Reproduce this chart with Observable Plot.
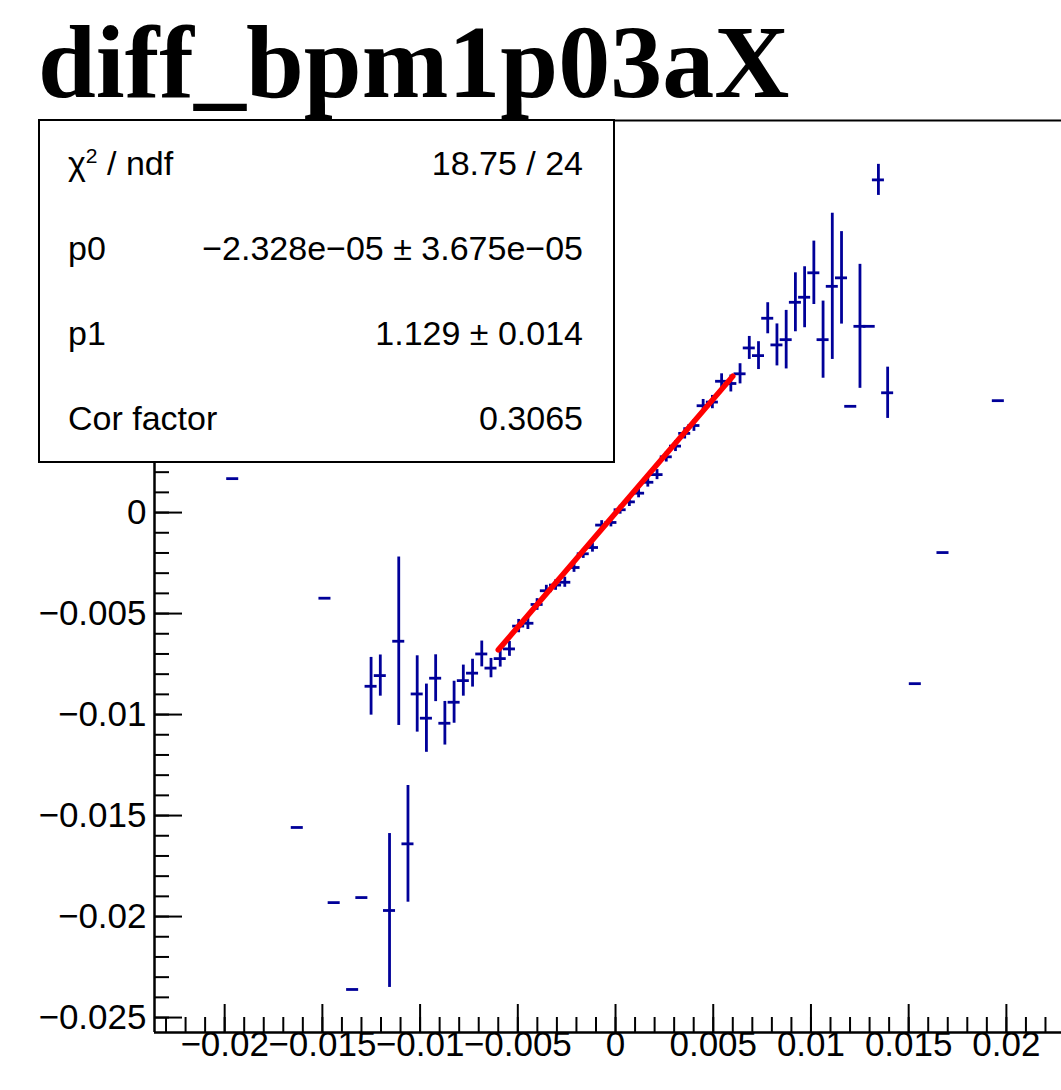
<!DOCTYPE html>
<html>
<head>
<meta charset="utf-8">
<script src="https://cdn.jsdelivr.net/npm/d3@7"></script>
<script src="https://cdn.jsdelivr.net/npm/@observablehq/plot@0.6"></script>
<style>
  html, body { margin: 0; padding: 0; background: #fff; overflow: hidden; }
  #wrap { position: relative; width: 1061px; height: 1090px; }
  #title { position: absolute; left: 38px; top: 10px; font: bold 104px "Liberation Serif", "Times New Roman", serif; color: #000; line-height: 1; white-space: nowrap; }
  #stats { position: absolute; left: 38px; top: 119px; width: 577px; height: 344px; box-sizing: border-box; border: 2px solid #000; background: #fff; font: 34px "Liberation Sans", Arial, sans-serif; color: #000; z-index: 2; }
  #stats .row { height: 85px; display: flex; justify-content: space-between; align-items: center; padding: 0 30px 0 28px; white-space: nowrap; }
  #stats sup { font-size: 0.62em; vertical-align: 0.55em; line-height: 0; }
  #chart { position: absolute; left: 0; top: 0; }
</style>
</head>
<body>
<div id="wrap">
  <div id="chart"></div>
  <div id="title">diff_bpm1p03aX</div>
  <div id="stats">
    <div class="row"><span>χ<sup>2</sup> / ndf</span><span>18.75 / 24</span></div>
    <div class="row"><span>p0</span><span>−2.328e−05 ± 3.675e−05</span></div>
    <div class="row"><span>p1</span><span>1.129 ± 0.014</span></div>
    <div class="row"><span>Cor factor</span><span>0.3065</span></div>
  </div>
</div>
<script>
// ---- data (profile bin centres, means, errors) ----
const xs = [-0.019588, -0.016284, -0.014868, -0.014396, -0.013452, -0.01298,
  -0.012508, -0.012036, -0.011564, -0.011092, -0.01062, -0.010148, -0.009676, -0.009204,
  -0.008732, -0.00826, -0.007788, -0.007316, -0.006844, -0.006372, -0.0059, -0.005428,
  -0.004956, -0.004484, -0.004012, -0.00354, -0.003068, -0.002596, -0.002124, -0.001652,
  -0.00118, -0.000708, -0.000236, 0.000236, 0.000708, 0.00118, 0.001652, 0.002124,
  0.002596, 0.003068, 0.00354, 0.004012, 0.004484, 0.004956, 0.005428, 0.0059, 0.006372,
  0.006844, 0.007316, 0.007788, 0.00826, 0.008732, 0.009204, 0.009676, 0.010148, 0.01062,
  0.011092, 0.011564, 0.012036, 0.012508, 0.01298, 0.013452, 0.013924,
  0.01534, 0.016756, 0.019588];
const ys = [0.00168, -0.01559, -0.00424, -0.01931, -0.02361, -0.01906,
  -0.0086, -0.00807, -0.0197, -0.00637, -0.0164, -0.00898, -0.01018, -0.0082,
  -0.01043, -0.00939, -0.00832, -0.00795, -0.007, -0.0077, -0.00723, -0.00675,
  -0.00562, -0.00548, -0.00455, -0.00387, -0.00359, -0.00345, -0.00272, -0.00204,
  -0.00173, -0.00062, -0.00049, 0.00014, 0.00053, 0.00096, 0.0015, 0.00188,
  0.00276, 0.00329, 0.00392, 0.00431, 0.00529, 0.00547, 0.0065, 0.00639, 0.00687,
  0.00815, 0.00777, 0.00962, 0.0083, 0.00856, 0.01041, 0.01066, 0.01187, 0.00856,
  0.0112, 0.01162, 0.00526, 0.00922, 0.00922, 0.01647, 0.00593,
  -0.00847, -0.00198, 0.00554];
const yErrs = [0, 0, 0, 0, 0, 0,
  0.00136, 0.00095, 0.00374, 0.0041, 0.00282, 0.00182, 0.00162, 0.00109,
  0.00101, 0.00097, 0.0007, 0.00062, 0.00057, 0.00041, 0.00035, 0.0003,
  0.00026, 0.00024, 0.00022, 0.0002, 0.00019, 0.00018, 0.00017, 0.00016,
  0.00016, 0.00015, 0.00015, 0.00015, 0.00016, 0.00016, 0.00017, 0.00018,
  0.00019, 0.0002, 0.00021, 0.00022, 0.00024, 0.00026, 0.0003, 0.00035, 0.00043,
  0.0005, 0.00062, 0.0007, 0.00097, 0.00138, 0.00139, 0.00144, 0.0015, 0.00184,
  0.00355, 0.00222, 0, 0.003, 0, 0.0007, 0.0012,
  0, 0, 0];
const binHalfWidth = 0.000236;

// fit: pol1, p0 + p1*x over the fit range
const fitP0 = -2.328e-05;
const fitP1 = 1.129;
const fitRange = [-0.006, 0.006];

// axis ticks (labels above 0 are hidden behind the stats box in the reference)
const xMajorTicks = [-0.02, -0.015, -0.01, -0.005, 0, 0.005, 0.01, 0.015, 0.02];
const yMajorTicks = [-0.025, -0.02, -0.015, -0.01, -0.005, 0, 0.005, 0.01, 0.015];
const yTickLabels = [-0.025, -0.02, -0.015, -0.01, -0.005, 0];
const xMinorTicks = d3.range(-23, 23).map(i => i / 1000);
const yMinorTicks = d3.range(-25, 20).map(i => i / 1000);

const xDomain = [-0.02359, 0.02282];
const yDomain = [-0.02574, 0.01941];

// ---- build ----
const points = xs.map((x, i) => ({x, y: ys[i], e: yErrs[i]}));
const fitPts = fitRange.map(x => ({x, y: fitP0 + fitP1 * x}));
const fmt = d => d3.format("~g")(d);

const W = 1061, H = 1090;
const mL = 154, mR = 0, mT = 120, mB = 58;
const plotW = W - mL - mR, plotH = H - mT - mB;
const navy = "#000099";

const chart = Plot.plot({
  width: W, height: H,
  marginLeft: mL, marginRight: mR, marginTop: mT, marginBottom: mB,
  x: {domain: xDomain, axis: null},
  y: {domain: yDomain, axis: null},
  style: {background: "#fff", fontFamily: "'Liberation Sans', Arial, sans-serif", fontSize: "35px", color: "#000", overflow: "visible"},
  marks: [
    // ticks (inward, ROOT style)
    Plot.tickY(yMinorTicks, {y: d => d, insetRight: plotW - 15, stroke: "#000", strokeWidth: 2}),
    Plot.tickY(yMajorTicks, {y: d => d, insetRight: plotW - 28, stroke: "#000", strokeWidth: 2}),
    Plot.tickX(xMinorTicks, {x: d => d, insetTop: plotH - 15, stroke: "#000", strokeWidth: 2}),
    Plot.tickX(xMajorTicks, {x: d => d, insetTop: plotH - 28, stroke: "#000", strokeWidth: 2}),
    // frame lines
    Plot.ruleX([xDomain[0]], {stroke: "#000", strokeWidth: 2.5}),
    Plot.ruleY([yDomain[0]], {stroke: "#000", strokeWidth: 2.5}),
    Plot.ruleY([yDomain[1]], {stroke: "#000", strokeWidth: 2}),
    // error bars
    Plot.ruleY(points, {y: "y", x1: d => d.x - binHalfWidth, x2: d => d.x + binHalfWidth, stroke: navy, strokeWidth: 2.8, strokeLinecap: "square"}),
    Plot.ruleX(points.filter(d => d.e > 0), {x: "x", y1: d => d.y - d.e, y2: d => d.y + d.e, stroke: navy, strokeWidth: 2.8, strokeLinecap: "square"}),
    // fit
    Plot.line(fitPts, {x: "x", y: "y", stroke: "#ff0000", strokeWidth: 5.5}),
    // tick labels
    Plot.text(xMajorTicks, {x: d => d, frameAnchor: "bottom", dy: 23, text: fmt, fill: "#000", fontSize: 35}),
    Plot.text(yTickLabels, {y: d => d, frameAnchor: "left", dx: -8, textAnchor: "end", text: fmt, fill: "#000", fontSize: 35})
  ]
});
document.getElementById("chart").appendChild(chart);
</script>
</body>
</html>
